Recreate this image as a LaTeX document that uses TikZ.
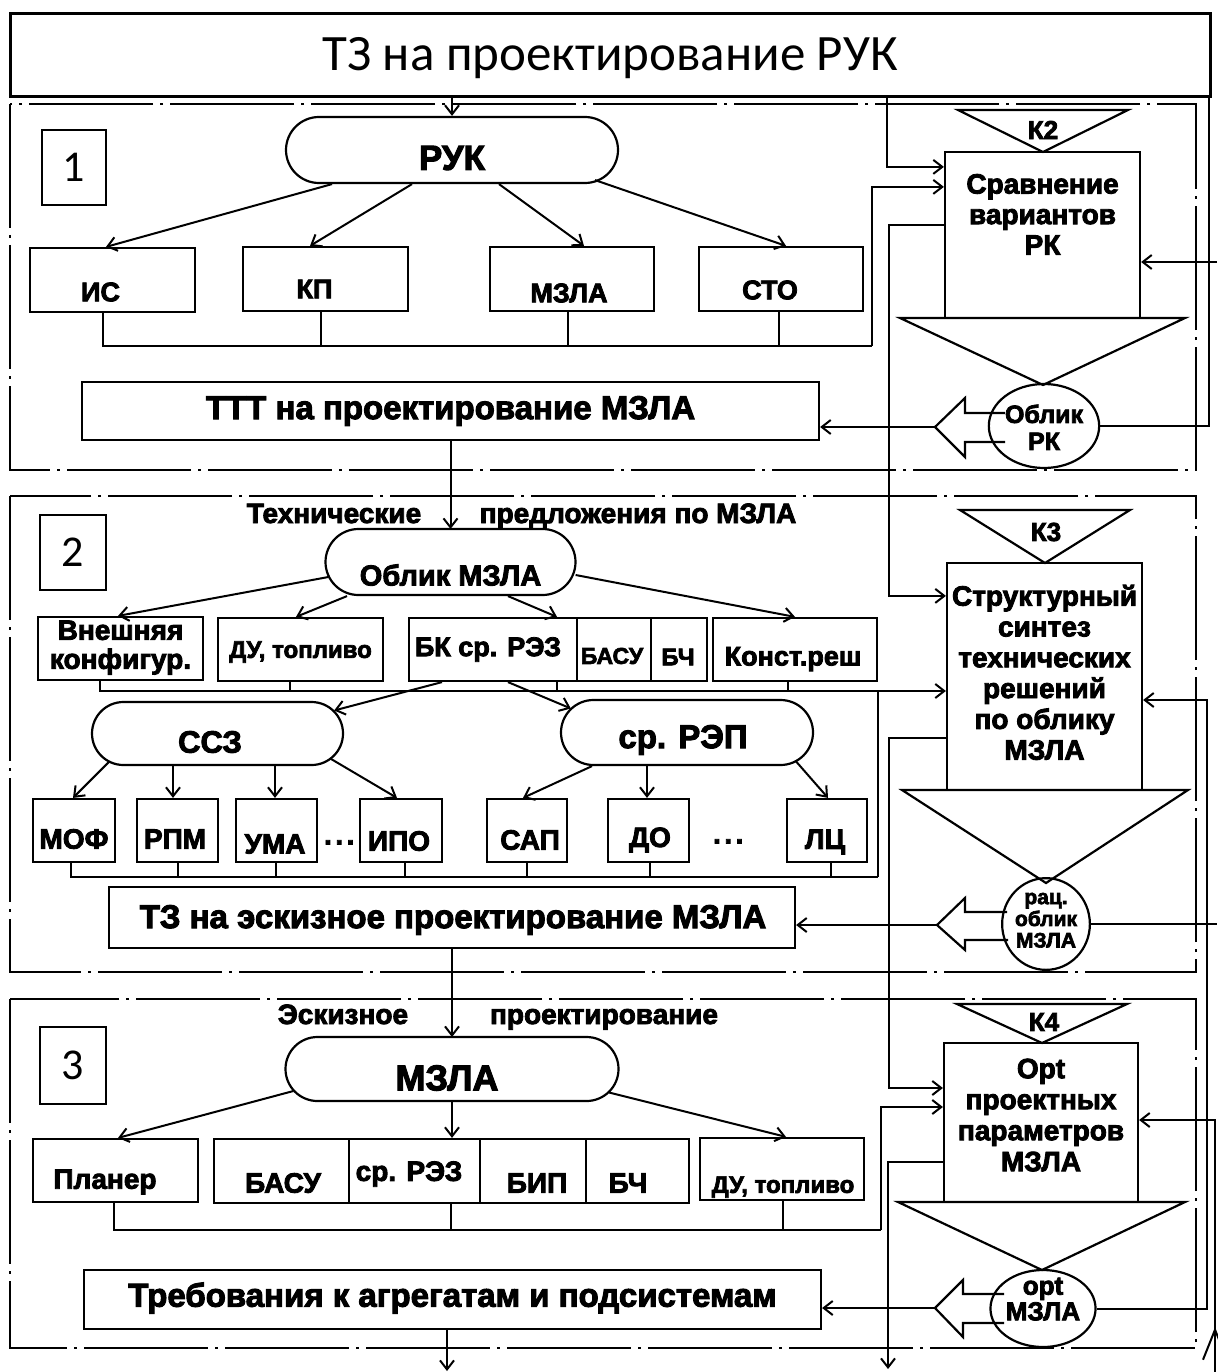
\documentclass[tikz,border=0pt]{standalone}
\usepackage{fontspec}
\setmainfont{Liberation Sans}
\newfontfamily\calib{Carlito}
\newfontfamily\hv{Liberation Sans Bold}[FakeBold=3]
\usetikzlibrary{arrows.meta,shapes.misc,shapes.geometric,calc}
\newcommand\sh[3]{\raisebox{-#2pt}[\height][\depth]{\kern#1pt\relax#3\kern-#1pt\relax}}
\newcommand\ml[1]{\begin{tabular}{@{}c@{}}#1\end{tabular}}
\begin{document}
\begin{tikzpicture}[x=1pt,y=-1pt,
  box/.style={draw,line width=2.2pt,rectangle,inner sep=0pt,align=center},
  oval/.style={draw,line width=2.2pt,rounded rectangle,inner sep=0pt},
  circ/.style={draw,line width=2.2pt,ellipse,inner sep=0pt,align=center},
  ln/.style={line width=2pt},
  arr/.style={line width=2pt,-{Straight Barb[length=9pt,width=14pt]}},
  frm/.style={line width=2.6pt,dash pattern=on 124pt off 7pt on 3pt off 7pt},
  shp/.style={line width=2.2pt,line join=miter},
  fz/.style={font=\hv\fontsize{#1}{#1}\selectfont},
  fzl/.style 2 args={font=\hv\fontsize{#1}{#2}\selectfont},
]
\useasboundingbox (0,0) rectangle (1217,1372);

% ---------- frames
\draw[frm] (10,104) rectangle (1196,470);
\draw[frm] (10,496) rectangle (1196,972);
\draw[frm] (10,999) rectangle (1196,1348);

% ---------- title
\node[draw,line width=3pt,minimum width=1200pt,minimum height=83pt,inner sep=0pt,
  font=\calib\fontsize{51}{51}\selectfont] (title) at (610,55.5) {\sh{0}{3}{ТЗ на проектирование РУК}};

% ---------- number boxes
\node[box,line width=1.6pt,minimum width=64pt,minimum height=75pt,font=\calib\fontsize{44}{44}\selectfont] (num1) at (74,167.5) {1};
\node[box,line width=1.6pt,minimum width=66pt,minimum height=75pt,font=\calib\fontsize{44}{44}\selectfont] (num2) at (73,552.5) {2};
\node[box,line width=1.6pt,minimum width=66pt,minimum height=77pt,font=\calib\fontsize{44}{44}\selectfont] (num3) at (73,1065.5) {3};

% ================= SECTION 1
\node[oval,minimum width=332pt,minimum height=66pt,fz=35] (ruk) at (452,150) {\sh{0}{8}{РУК}};
\node[box,minimum width=165pt,minimum height=64pt,fz=27] (is) at (112.5,280) {\sh{-12}{12}{ИС}};
\node[box,minimum width=165pt,minimum height=64pt,fz=27] (kp) at (325.5,279) {\sh{-11}{10}{КП}};
\node[box,minimum width=164pt,minimum height=64pt,fz=27] (mzla1) at (572,279) {\sh{-3}{14}{МЗЛА}};
\node[box,minimum width=164pt,minimum height=64pt,fz=27] (sto) at (781,279) {\sh{-11}{11}{СТО}};
\node[box,minimum width=737pt,minimum height=58pt,fz=33] (ttt) at (450.5,411) {ТТТ на проектирование МЗЛА};

\draw[arr] (ruk.north |- title.south) -- (ruk.north);
\draw[arr] ($(ruk.south)+(-120,0)$) -- ($(is.north)+(-6.5,0)$);
\draw[arr] ($(ruk.south)+(-40,0)$) -- ($(kp.north)+(-15.5,0)$);
\draw[arr] ($(ruk.south)+(47,0)$) -- ($(mzla1.north)+(12,0)$);
\draw[arr] ($(ruk.south)+(143,-4)$) -- ($(sto.north)+(5,0)$);

\coordinate (bus1) at (872,346);
\draw[ln] ($(is.south)+(-9.5,0)$) |- (bus1);
\draw[ln] ($(kp.south)+(-4.5,0)$) |- (bus1);
\draw[ln] ($(mzla1.south)+(-4,0)$) |- (bus1);
\draw[ln] ($(sto.south)+(-2,0)$) |- (bus1);

% right column 1
\coordinate (k2a) at (958,110); \coordinate (k2b) at (1128,110); \coordinate (k2c) at (1043,152);
\draw[shp] (k2a) -- (k2b) -- (k2c) -- cycle;
\node[fz=26] (k2) at (1043,130) {К2};
\node[box,minimum width=195pt,minimum height=166pt,fzl={28}{30.5}] (sr) at (1042.5,235) {\sh{0}{-17}{\ml{Сравнение\\вариантов\\РК}}};
\coordinate (t1a) at (900,318); \coordinate (t1b) at (1185,318); \coordinate (t1c) at (1043,385);
\draw[shp] (t1a) -- (t1b) -- (t1c) -- cycle;
\node[circ,minimum width=81pt,minimum height=84pt,fzl={25}{27}] (oblrk) at (1044,426) {\sh{0}{5}{\ml{Облик\\РК}}};
\coordinate (fa1) at (935,427);
\draw[shp] (1005,413) -- (965,413) -- (965,398) -- (fa1) -- (965,457) -- (965,442) -- (1005,442);

\draw[arr] (bus1) |- ($(sr.north west)+(0,36)$);
\draw[arr] ($(title.south west)+(878,0)$) |- ($(sr.north west)+(0,16)$);
\coordinate (e1) at (1217,262);
\draw[arr] (e1) -- ($(sr.east)+(0,27)$);
\draw[ln] (oblrk.east) -| ($(title.south east)+(-3,0)$);
\draw[arr] (fa1) -- (ttt.east |- fa1);

% ================= SECTION 2
\draw[arr] (ttt.south) -- (450.5,529);
\node[fz=28,anchor=base] (tp1) at (334,523) {Технические};
\node[fz=28,anchor=base] (tp2) at (638,523) {предложения по МЗЛА};
\node[oval,minimum width=250pt,minimum height=66pt,fz=29] (oblm) at (450.5,562) {\sh{0}{13}{Облик МЗЛА}};

\node[box,minimum width=165pt,minimum height=63pt,fzl={28}{29}] (vnesh) at (120.5,648.5) {\ml{Внешняя\\конфигур.}};
\node[box,minimum width=165pt,minimum height=63pt,fz=24] (du) at (300.5,649.5) {\sh{0}{2.5}{ДУ, топливо}};
\node[box,minimum width=168pt,minimum height=63pt,fz=27] (bk) at (493,649.5) {\sh{-5}{0}{БК ср. РЭЗ}};
\node[box,minimum width=74pt,minimum height=63pt,fz=23] (basu2) at (614,649.5) {\sh{-2}{6.5}{БАСУ}};
\node[box,minimum width=56pt,minimum height=63pt,fz=24] (bch2) at (679,649.5) {\sh{-1}{7.5}{БЧ}};
\node[box,minimum width=164pt,minimum height=63pt,fz=27] (konst) at (795,649.5) {\sh{-2}{9.5}{Конст.реш}};

\draw[arr] ($(oblm.west)+(4,15)$) -- ($(vnesh.north)+(-2.5,0)$);
\draw[arr] ($(oblm.south)+(-103.5,0)$) -- ($(du.north)+(-4.5,0)$);
\draw[arr] ($(oblm.south)+(57.5,0)$) -- ($(bk.north)+(64,0)$);
\draw[arr] ($(oblm.east)+(-1,13)$) -- (konst.north);

\node[oval,minimum width=251pt,minimum height=63pt,fz=31] (ssz) at (217.5,733.5) {\sh{-7.5}{8.5}{ССЗ}};
\node[oval,minimum width=252pt,minimum height=65pt,fz=33] (rep) at (687,732.5) {\sh{-4}{7.5}{ср. РЭП}};
\draw[arr] ($(bk.south)+(-51,0)$) -- ($(ssz.east)+(-10,-23)$);
\draw[arr] ($(bk.south)+(15,0)$) -- ($(rep.west)+(11,-24)$);

\node[box,minimum width=82pt,minimum height=63pt,fz=28] (mof) at (74,830.5) {\sh{0}{8.5}{МОФ}};
\node[box,minimum width=81pt,minimum height=63pt,fz=28] (rpm) at (177.5,830.5) {\sh{-2.5}{8.5}{РПМ}};
\node[box,minimum width=81pt,minimum height=63pt,fz=28] (uma) at (276.5,830.5) {\sh{-1.5}{13.5}{УМА}};
\node[box,minimum width=82pt,minimum height=63pt,fz=28] (ipo) at (401,830.5) {\sh{-2}{10.5}{ИПО}};
\node[fz=28] (dots1) at (340,846) {·\kern2pt·\kern2pt·};
\node[box,minimum width=80pt,minimum height=63pt,fz=28] (sap) at (527,830.5) {\sh{3}{9.5}{САП}};
\node[box,minimum width=81pt,minimum height=63pt,fz=28] (do) at (648.5,830.5) {\sh{1.5}{9.5}{ДО}};
\node[box,minimum width=80pt,minimum height=63pt,fz=28] (lc) at (827,830.5) {\sh{-2}{11.5}{ЛЦ}};
\node[fz=28] (dots2) at (729,845) {·\kern2pt·\kern2pt·};

\draw[arr] ($(ssz.west)+(18,28.5)$) -- ($(mof.north)+(-1,0)$);
\draw[arr] ($(ssz.south)+(-44.5,0)$) -- ($(rpm.north)+(-4.5,0)$);
\draw[arr] ($(ssz.south)+(57.5,0)$) -- ($(uma.north)+(-1.5,0)$);
\draw[arr] ($(ssz.east)+(-13,25.5)$) -- ($(ipo.north)+(-4,0)$);
\draw[arr] ($(rep.south)+(-95,0)$) -- ($(sap.north)+(-4,0)$);
\draw[arr] ($(rep.south)+(-40,0)$) -- ($(do.north)+(-1.5,0)$);
\draw[arr] ($(rep.east)+(-18,29)$) -- ($(lc.north)+(1,0)$);

% buses section 2
\coordinate (bus2) at (878,691);
\coordinate (bus2b) at (878,877);
\draw[ln] ($(du.south)+(-10.5,0)$) |- (bus2);
\draw[ln] ($(bk.south)+(64,0)$) |- (bus2);
\draw[ln] ($(konst.south)+(-7,0)$) |- (bus2);
\draw[ln] ($(mof.south)+(-3,0)$) |- (bus2b);
\draw[ln] ($(rpm.south)+(0.5,0)$) |- (bus2b);
\draw[ln] ($(uma.south)+(-0.5,0)$) |- (bus2b);
\draw[ln] ($(ipo.south)+(4,0)$) |- (bus2b);
\draw[ln] (sap.south) |- (bus2b);
\draw[ln] ($(do.south)+(1.5,0)$) |- (bus2b);
\draw[ln] ($(lc.south)+(4,0)$) |- (bus2b);
\draw[ln] (bus2b) -- (bus2);

\node[box,minimum width=686pt,minimum height=61pt,fz=33] (tze) at (452,917.5) {\sh{1}{2.5}{ТЗ на эскизное проектирование МЗЛА}};

% right column 2
\coordinate (k3a) at (960,510); \coordinate (k3b) at (1130,510); \coordinate (k3c) at (1045,563);
\draw[shp] (k3a) -- (k3b) -- (k3c) -- cycle;
\node[fz=26] (k3) at (1046,532) {К3};
\node[box,minimum width=195pt,minimum height=227pt,fzl={28}{30.8}] (sk) at (1044.5,676.5) {\ml{Структурный\\синтез\\технических\\решений\\по облику\\МЗЛА}};
\coordinate (t2a) at (902,790); \coordinate (t2b) at (1188,790); \coordinate (t2c) at (1046,883);
\draw[shp] (t2a) -- (t2b) -- (t2c) -- cycle;
\node[circ,minimum width=82pt,minimum height=82pt,fzl={21}{21.5}] (ratc) at (1046,924) {\sh{0}{-2.5}{\ml{рац.\\облик\\МЗЛА}}};
\coordinate (fa2) at (937,925);
\draw[shp] (1007,912) -- (965,912) -- (965,898) -- (fa2) -- (965,950) -- (965,940) -- (1008,940);

\draw[arr] ($(vnesh.south)+(-20.5,0)$) |- ($(sk.west)+(0,14.5)$);
\coordinate (c889) at (889,500);
\draw[arr] ($(sr.west)+(0,-10)$) -| (c889) |- ($(sk.north west)+(0,34)$);
\coordinate (e2) at (1217,924);
\draw[ln] (ratc.east) -- (e2);
\draw[arr] (fa2) -- (tze.east |- fa2);

% ================= SECTION 3
\draw[arr] (tze.south) -- (452,1037);
\node[fz=28,anchor=base] (es1) at (343,1024) {Эскизное};
\node[fz=28,anchor=base] (es2) at (604,1024) {проектирование};
\node[oval,minimum width=333pt,minimum height=64pt,fz=36] (mzla3) at (452,1069) {\sh{-5}{9}{МЗЛА}};

\node[box,minimum width=165pt,minimum height=63pt,fz=28] (planer) at (115.5,1170.5) {\sh{-10.5}{11.5}{Планер}};
\node[box,minimum width=135pt,minimum height=64pt,fz=28] (basu3) at (281.5,1171) {\sh{1.5}{12}{БАСУ}};
\node[box,minimum width=131pt,minimum height=64pt,fz=28] (rez3) at (414.5,1171) {\sh{-5.5}{3}{ср. РЭЗ}};
\node[box,minimum width=106pt,minimum height=64pt,fz=28] (bip) at (533,1171) {\sh{4}{12}{БИП}};
\node[box,minimum width=103pt,minimum height=64pt,fz=28] (bch3) at (637.5,1171) {\sh{-9.5}{12}{БЧ}};
\node[box,minimum width=164pt,minimum height=62pt,fz=24] (du3) at (782,1169) {\sh{1}{18}{ДУ, топливо}};

\draw[arr] ($(mzla3.west)+(9,22)$) -- ($(planer.north)+(2.5,0)$);
\draw[arr] (mzla3.south) -- ($(rez3.north)+(37.5,0)$);
\draw[arr] ($(mzla3.east)+(-10.5,23.5)$) -- ($(du3.north)+(4,0)$);

\coordinate (bus3) at (881,1230);
\draw[ln] ($(planer.south)+(-1.5,0)$) |- (bus3);
\draw[ln] ($(rez3.south)+(36.5,0)$) |- (bus3);
\draw[ln] ($(du3.south)+(1,0)$) |- (bus3);

\node[box,minimum width=737pt,minimum height=59pt,fz=33] (treb) at (452.5,1299.5) {\sh{0}{-1.5}{Требования к агрегатам и подсистемам}};

% right column 3
\coordinate (k4a) at (957,1004); \coordinate (k4b) at (1127,1004); \coordinate (k4c) at (1042,1043);
\draw[shp] (k4a) -- (k4b) -- (k4c) -- cycle;
\node[fz=26] (k4) at (1044,1022) {К4};
\node[box,minimum width=194pt,minimum height=159pt,fzl={28}{31}] (opt) at (1041,1122.5) {\sh{0}{-4}{\ml{Opt\\проектных\\параметров\\МЗЛА}}};
\coordinate (t3a) at (898,1202); \coordinate (t3b) at (1185,1202); \coordinate (t3c) at (1042,1270);
\draw[shp] (t3a) -- (t3b) -- (t3c) -- cycle;
\node[circ,minimum width=83pt,minimum height=77pt,fzl={26}{25}] (optc) at (1043,1308.5) {\sh{0}{-6}{\ml{opt\\МЗЛА}}};
\coordinate (fa3) at (935,1308);
\draw[shp] (1004,1294) -- (963,1294) -- (963,1280) -- (fa3) -- (963,1337) -- (963,1323) -- (1004,1323);

\coordinate (c889b) at (889,900);
\draw[arr] ($(sk.west)+(0,61.5)$) -| (c889b) |- ($(opt.west)+(0,-34.5)$);
\draw[arr] (bus3) |- ($(opt.west)+(0,-15.5)$);
\coordinate (c1207) at (1207,1000);
\draw[arr] (optc.east) -| (c1207) |- ($(sk.east)+(0,23.5)$);
\coordinate (e4) at (888,1369);
\draw[arr] ($(opt.west)+(0,39.5)$) -| (e4);
\coordinate (e5) at (1215,1372);
\coordinate (e5m) at (1215,1327);
\draw[arr] (e5) |- ($(opt.east)+(0,-2.5)$);
\draw[line width=2pt,-{Straight Barb[length=30pt,width=24pt]}] (e5) -- (e5m);
\draw[arr] (fa3) -- (treb.east |- fa3);
\coordinate (e3) at (447,1371);
\draw[arr] ($(treb.south)+(-5.5,0)$) -- (e3);

\end{tikzpicture}
\end{document}
